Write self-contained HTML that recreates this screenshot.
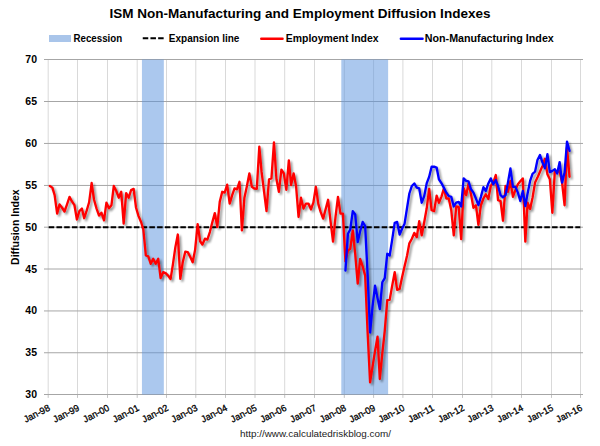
<!DOCTYPE html>
<html><head><meta charset="utf-8"><style>
html,body{margin:0;padding:0;background:#fff;width:600px;height:446px;overflow:hidden}
svg{display:block}
text{font-family:"Liberation Sans", sans-serif}
</style></head><body>
<svg width="600" height="446" viewBox="0 0 600 446">
<defs>
<filter id="sh" x="-10%" y="-10%" width="120%" height="130%">
<feGaussianBlur in="SourceAlpha" stdDeviation="1.3"/>
<feOffset dx="1.6" dy="1.8" result="ob"/>
<feComponentTransfer><feFuncA type="linear" slope="0.42"/></feComponentTransfer>
<feMerge><feMergeNode/><feMergeNode in="SourceGraphic"/></feMerge>
</filter>
</defs>
<rect width="600" height="446" fill="#fff"/>

<line x1="48.2" y1="59.5" x2="48.2" y2="394.5" stroke="#d9d9d9" stroke-width="1"/>
<line x1="48.2" y1="394.5" x2="48.2" y2="397.9" stroke="#c4c4c4" stroke-width="1"/>
<line x1="77.5" y1="59.5" x2="77.5" y2="394.5" stroke="#d9d9d9" stroke-width="1"/>
<line x1="77.5" y1="394.5" x2="77.5" y2="397.9" stroke="#c4c4c4" stroke-width="1"/>
<line x1="107.5" y1="59.5" x2="107.5" y2="394.5" stroke="#d9d9d9" stroke-width="1"/>
<line x1="107.5" y1="394.5" x2="107.5" y2="397.9" stroke="#c4c4c4" stroke-width="1"/>
<line x1="137.2" y1="59.5" x2="137.2" y2="394.5" stroke="#d9d9d9" stroke-width="1"/>
<line x1="137.2" y1="394.5" x2="137.2" y2="397.9" stroke="#c4c4c4" stroke-width="1"/>
<line x1="166.5" y1="59.5" x2="166.5" y2="394.5" stroke="#d9d9d9" stroke-width="1"/>
<line x1="166.5" y1="394.5" x2="166.5" y2="397.9" stroke="#c4c4c4" stroke-width="1"/>
<line x1="195.8" y1="59.5" x2="195.8" y2="394.5" stroke="#d9d9d9" stroke-width="1"/>
<line x1="195.8" y1="394.5" x2="195.8" y2="397.9" stroke="#c4c4c4" stroke-width="1"/>
<line x1="225.5" y1="59.5" x2="225.5" y2="394.5" stroke="#d9d9d9" stroke-width="1"/>
<line x1="225.5" y1="394.5" x2="225.5" y2="397.9" stroke="#c4c4c4" stroke-width="1"/>
<line x1="255.0" y1="59.5" x2="255.0" y2="394.5" stroke="#d9d9d9" stroke-width="1"/>
<line x1="255.0" y1="394.5" x2="255.0" y2="397.9" stroke="#c4c4c4" stroke-width="1"/>
<line x1="284.7" y1="59.5" x2="284.7" y2="394.5" stroke="#d9d9d9" stroke-width="1"/>
<line x1="284.7" y1="394.5" x2="284.7" y2="397.9" stroke="#c4c4c4" stroke-width="1"/>
<line x1="314.5" y1="59.5" x2="314.5" y2="394.5" stroke="#d9d9d9" stroke-width="1"/>
<line x1="314.5" y1="394.5" x2="314.5" y2="397.9" stroke="#c4c4c4" stroke-width="1"/>
<line x1="344.3" y1="59.5" x2="344.3" y2="394.5" stroke="#d9d9d9" stroke-width="1"/>
<line x1="344.3" y1="394.5" x2="344.3" y2="397.9" stroke="#c4c4c4" stroke-width="1"/>
<line x1="373.6" y1="59.5" x2="373.6" y2="394.5" stroke="#d9d9d9" stroke-width="1"/>
<line x1="373.6" y1="394.5" x2="373.6" y2="397.9" stroke="#c4c4c4" stroke-width="1"/>
<line x1="402.9" y1="59.5" x2="402.9" y2="394.5" stroke="#d9d9d9" stroke-width="1"/>
<line x1="402.9" y1="394.5" x2="402.9" y2="397.9" stroke="#c4c4c4" stroke-width="1"/>
<line x1="432.5" y1="59.5" x2="432.5" y2="394.5" stroke="#d9d9d9" stroke-width="1"/>
<line x1="432.5" y1="394.5" x2="432.5" y2="397.9" stroke="#c4c4c4" stroke-width="1"/>
<line x1="462.5" y1="59.5" x2="462.5" y2="394.5" stroke="#d9d9d9" stroke-width="1"/>
<line x1="462.5" y1="394.5" x2="462.5" y2="397.9" stroke="#c4c4c4" stroke-width="1"/>
<line x1="491.8" y1="59.5" x2="491.8" y2="394.5" stroke="#d9d9d9" stroke-width="1"/>
<line x1="491.8" y1="394.5" x2="491.8" y2="397.9" stroke="#c4c4c4" stroke-width="1"/>
<line x1="521.5" y1="59.5" x2="521.5" y2="394.5" stroke="#d9d9d9" stroke-width="1"/>
<line x1="521.5" y1="394.5" x2="521.5" y2="397.9" stroke="#c4c4c4" stroke-width="1"/>
<line x1="551.5" y1="59.5" x2="551.5" y2="394.5" stroke="#d9d9d9" stroke-width="1"/>
<line x1="551.5" y1="394.5" x2="551.5" y2="397.9" stroke="#c4c4c4" stroke-width="1"/>
<line x1="580.5" y1="59.5" x2="580.5" y2="394.5" stroke="#d9d9d9" stroke-width="1"/>
<line x1="580.5" y1="394.5" x2="580.5" y2="397.9" stroke="#c4c4c4" stroke-width="1"/>
<line x1="44" y1="394.500" x2="583" y2="394.500" stroke="#a6a6a6" stroke-width="1"/>
<line x1="44" y1="352.750" x2="583" y2="352.750" stroke="#a6a6a6" stroke-width="1"/>
<line x1="44" y1="310.950" x2="583" y2="310.950" stroke="#a6a6a6" stroke-width="1"/>
<line x1="44" y1="269.000" x2="583" y2="269.000" stroke="#a6a6a6" stroke-width="1"/>
<line x1="44" y1="227.200" x2="583" y2="227.200" stroke="#a6a6a6" stroke-width="1"/>
<line x1="44" y1="185.450" x2="583" y2="185.450" stroke="#a6a6a6" stroke-width="1"/>
<line x1="44" y1="143.450" x2="583" y2="143.450" stroke="#a6a6a6" stroke-width="1"/>
<line x1="44" y1="101.500" x2="583" y2="101.500" stroke="#a6a6a6" stroke-width="1"/>
<line x1="44" y1="59.500" x2="583" y2="59.500" stroke="#a6a6a6" stroke-width="1"/>
<rect x="141.95" y="59.5" width="21.88" height="335" fill="rgb(87,145,221)" fill-opacity="0.5"/>
<rect x="341.30" y="59.5" width="46.82" height="335" fill="rgb(87,145,221)" fill-opacity="0.5"/>
<line x1="48.6" y1="227.2" x2="580.3" y2="227.2" stroke="#000" stroke-width="2.1" stroke-dasharray="5.53 2.214" stroke-dashoffset="-0.1"/>
<g filter="url(#sh)" fill="none" stroke-linejoin="round" stroke-linecap="round">
<path d="M49.86,185.96 L52.37,187.64 L54.64,195.18 L57.14,213.60 L59.57,204.39 L62.08,207.74 L64.51,211.51 L67.02,204.39 L69.53,196.85 L71.95,201.46 L74.46,205.22 L76.89,219.46 L79.40,211.09 L81.91,208.57 L84.17,218.21 L86.68,210.67 L89.11,202.29 L91.62,183.03 L94.05,199.78 L96.56,208.57 L99.07,215.61 L101.49,212.76 L104.00,220.30 L106.43,202.71 L108.94,208.16 L111.45,205.22 L113.79,185.96 L116.30,190.99 L118.73,197.69 L121.24,191.82 L123.67,223.65 L126.18,193.08 L128.69,197.69 L131.11,190.15 L133.62,188.89 L136.05,207.74 L138.56,216.11 L141.07,221.97 L143.33,229.51 L145.84,255.47 L148.27,256.31 L150.78,263.85 L153.21,258.82 L155.72,263.85 L158.23,258.82 L160.65,278.09 L163.16,272.23 L165.59,273.06 L168.10,275.57 L170.61,278.93 L172.87,264.69 L175.38,247.10 L177.81,234.54 L180.32,278.93 L182.75,262.18 L185.26,251.71 L187.76,252.12 L190.19,256.73 L192.70,262.18 L195.13,249.61 L197.64,224.07 L200.15,241.24 L202.41,244.59 L204.92,238.72 L207.35,239.56 L209.86,232.03 L212.29,222.39 L214.80,213.18 L217.30,227.00 L219.73,201.88 L222.24,191.82 L224.67,192.66 L227.18,184.71 L229.69,203.55 L232.03,195.59 L234.54,188.47 L236.97,189.31 L239.48,181.78 L241.91,230.35 L244.42,197.69 L246.92,185.96 L249.35,173.40 L251.86,186.80 L254.29,188.47 L256.80,188.89 L259.31,146.60 L261.57,171.72 L264.08,191.82 L266.51,211.09 L269.02,179.26 L271.45,178.43 L273.96,142.41 L276.46,179.26 L278.89,191.82 L281.40,169.63 L283.83,173.40 L286.34,189.73 L288.85,160.42 L291.11,185.12 L293.62,173.40 L296.05,185.96 L298.56,216.95 L300.99,197.69 L303.49,208.57 L306.00,203.55 L308.43,203.55 L310.94,209.41 L313.37,202.71 L315.88,186.80 L318.39,204.39 L320.65,211.93 L323.16,218.62 L325.59,209.41 L328.10,199.78 L330.53,221.14 L333.03,241.66 L335.54,216.53 L337.97,196.85 L340.48,213.60 L342.91,213.60 L345.42,261.34 L347.93,250.45 L350.27,248.78 L352.78,230.35 L355.21,253.80 L357.72,283.53 L360.15,258.82 L362.65,266.36 L365.16,275.57 L367.59,331.69 L370.10,382.36 L372.53,366.86 L375.04,350.95 L377.55,336.71 L379.81,379.01 L382.32,353.46 L384.75,330.85 L387.26,300.28 L389.69,299.86 L392.19,285.62 L394.70,272.23 L397.13,289.81 L399.64,288.98 L402.07,277.25 L404.58,266.36 L407.09,255.47 L409.35,243.33 L411.86,238.72 L414.29,232.86 L416.80,237.05 L419.22,221.14 L421.73,235.38 L424.24,221.97 L426.67,208.57 L429.18,188.89 L431.61,210.25 L434.12,211.09 L436.62,195.59 L438.89,202.71 L441.40,196.85 L443.83,188.47 L446.34,198.53 L448.76,198.53 L451.27,210.25 L453.78,235.38 L456.21,206.48 L458.72,206.90 L461.15,239.14 L463.66,188.06 L466.16,195.18 L468.51,183.45 L471.02,194.34 L473.45,207.74 L475.96,205.22 L478.38,224.91 L480.89,205.22 L483.40,198.53 L485.83,194.34 L488.34,198.94 L490.77,185.96 L493.28,182.61 L495.78,175.07 L498.05,200.20 L500.56,201.04 L502.99,220.72 L505.50,185.96 L507.92,191.82 L510.43,180.94 L512.94,196.85 L515.37,190.15 L517.88,184.29 L520.31,181.36 L522.82,178.43 L525.32,241.66 L527.59,202.71 L530.10,208.99 L532.53,197.69 L535.04,182.61 L537.46,177.59 L539.97,171.72 L542.48,165.86 L544.91,158.74 L547.42,174.24 L549.85,179.26 L552.35,212.76 L554.86,170.89 L557.13,171.72 L559.64,170.89 L562.07,182.61 L564.57,205.22 L567.00,147.44 L569.51,176.75" stroke="#ff0000" stroke-width="2.35"/>
<path d="M345.42,270.55 L347.93,233.70 L350.27,229.51 L352.78,211.09 L355.21,214.44 L357.72,242.07 L360.15,231.19 L362.65,221.97 L365.16,226.16 L367.59,273.90 L370.10,332.53 L372.53,306.56 L375.04,285.62 L377.55,298.19 L379.81,309.07 L382.32,282.27 L384.75,278.09 L387.26,253.80 L389.69,255.47 L392.19,239.56 L394.70,222.81 L397.13,221.97 L399.64,234.54 L402.07,228.68 L404.58,223.65 L407.09,207.74 L409.35,193.50 L411.86,185.96 L414.29,183.45 L416.80,187.64 L419.22,188.47 L421.73,202.71 L424.24,196.01 L426.67,183.45 L429.18,176.75 L431.61,166.70 L434.12,166.70 L436.62,167.54 L438.89,179.26 L441.40,183.03 L443.83,187.64 L446.34,192.66 L448.76,196.01 L451.27,196.85 L453.78,206.48 L456.21,202.71 L458.72,201.88 L461.15,206.48 L463.66,178.43 L466.16,180.94 L468.51,181.36 L471.02,189.31 L473.45,192.66 L475.96,198.53 L478.38,205.22 L480.89,196.85 L483.40,187.22 L485.83,190.99 L488.34,183.45 L490.77,178.43 L493.28,184.29 L495.78,180.10 L498.05,185.96 L500.56,195.18 L502.99,197.27 L505.50,195.18 L507.92,182.61 L510.43,168.38 L512.94,186.80 L515.37,186.80 L517.88,192.66 L520.31,201.04 L522.82,190.99 L525.32,206.06 L527.59,193.50 L530.10,180.94 L532.53,173.82 L535.04,171.72 L537.46,160.00 L539.97,154.97 L542.48,162.51 L544.91,168.38 L547.42,154.14 L549.85,172.14 L552.35,170.89 L554.86,169.21 L557.13,173.40 L559.64,162.09 L562.07,182.61 L564.57,172.56 L567.00,141.57 L569.51,150.79" stroke="#0000ff" stroke-width="2.35"/>
</g>
<text x="37" y="398.1" text-anchor="end" font-size="10.5" font-weight="bold" fill="#000">30</text>
<text x="37" y="356.2" text-anchor="end" font-size="10.5" font-weight="bold" fill="#000">35</text>
<text x="37" y="314.4" text-anchor="end" font-size="10.5" font-weight="bold" fill="#000">40</text>
<text x="37" y="272.5" text-anchor="end" font-size="10.5" font-weight="bold" fill="#000">45</text>
<text x="37" y="230.6" text-anchor="end" font-size="10.5" font-weight="bold" fill="#000">50</text>
<text x="37" y="188.7" text-anchor="end" font-size="10.5" font-weight="bold" fill="#000">55</text>
<text x="37" y="146.8" text-anchor="end" font-size="10.5" font-weight="bold" fill="#000">60</text>
<text x="37" y="105.0" text-anchor="end" font-size="10.5" font-weight="bold" fill="#000">65</text>
<text x="37" y="63.1" text-anchor="end" font-size="10.5" font-weight="bold" fill="#000">70</text>
<text transform="translate(50.7,410) rotate(-27)" text-anchor="end" font-size="9.4" stroke="#000" stroke-width="0.3" textLength="28" lengthAdjust="spacingAndGlyphs" fill="#000">Jan-98</text>
<text transform="translate(80.0,410) rotate(-27)" text-anchor="end" font-size="9.4" stroke="#000" stroke-width="0.3" textLength="28" lengthAdjust="spacingAndGlyphs" fill="#000">Jan-99</text>
<text transform="translate(110.0,410) rotate(-27)" text-anchor="end" font-size="9.4" stroke="#000" stroke-width="0.3" textLength="28" lengthAdjust="spacingAndGlyphs" fill="#000">Jan-00</text>
<text transform="translate(139.7,410) rotate(-27)" text-anchor="end" font-size="9.4" stroke="#000" stroke-width="0.3" textLength="28" lengthAdjust="spacingAndGlyphs" fill="#000">Jan-01</text>
<text transform="translate(169.0,410) rotate(-27)" text-anchor="end" font-size="9.4" stroke="#000" stroke-width="0.3" textLength="28" lengthAdjust="spacingAndGlyphs" fill="#000">Jan-02</text>
<text transform="translate(198.3,410) rotate(-27)" text-anchor="end" font-size="9.4" stroke="#000" stroke-width="0.3" textLength="28" lengthAdjust="spacingAndGlyphs" fill="#000">Jan-03</text>
<text transform="translate(228.0,410) rotate(-27)" text-anchor="end" font-size="9.4" stroke="#000" stroke-width="0.3" textLength="28" lengthAdjust="spacingAndGlyphs" fill="#000">Jan-04</text>
<text transform="translate(257.5,410) rotate(-27)" text-anchor="end" font-size="9.4" stroke="#000" stroke-width="0.3" textLength="28" lengthAdjust="spacingAndGlyphs" fill="#000">Jan-05</text>
<text transform="translate(287.2,410) rotate(-27)" text-anchor="end" font-size="9.4" stroke="#000" stroke-width="0.3" textLength="28" lengthAdjust="spacingAndGlyphs" fill="#000">Jan-06</text>
<text transform="translate(317.0,410) rotate(-27)" text-anchor="end" font-size="9.4" stroke="#000" stroke-width="0.3" textLength="28" lengthAdjust="spacingAndGlyphs" fill="#000">Jan-07</text>
<text transform="translate(346.8,410) rotate(-27)" text-anchor="end" font-size="9.4" stroke="#000" stroke-width="0.3" textLength="28" lengthAdjust="spacingAndGlyphs" fill="#000">Jan-08</text>
<text transform="translate(376.1,410) rotate(-27)" text-anchor="end" font-size="9.4" stroke="#000" stroke-width="0.3" textLength="28" lengthAdjust="spacingAndGlyphs" fill="#000">Jan-09</text>
<text transform="translate(405.4,410) rotate(-27)" text-anchor="end" font-size="9.4" stroke="#000" stroke-width="0.3" textLength="28" lengthAdjust="spacingAndGlyphs" fill="#000">Jan-10</text>
<text transform="translate(435.0,410) rotate(-27)" text-anchor="end" font-size="9.4" stroke="#000" stroke-width="0.3" textLength="28" lengthAdjust="spacingAndGlyphs" fill="#000">Jan-11</text>
<text transform="translate(465.0,410) rotate(-27)" text-anchor="end" font-size="9.4" stroke="#000" stroke-width="0.3" textLength="28" lengthAdjust="spacingAndGlyphs" fill="#000">Jan-12</text>
<text transform="translate(494.3,410) rotate(-27)" text-anchor="end" font-size="9.4" stroke="#000" stroke-width="0.3" textLength="28" lengthAdjust="spacingAndGlyphs" fill="#000">Jan-13</text>
<text transform="translate(524.0,410) rotate(-27)" text-anchor="end" font-size="9.4" stroke="#000" stroke-width="0.3" textLength="28" lengthAdjust="spacingAndGlyphs" fill="#000">Jan-14</text>
<text transform="translate(554.0,410) rotate(-27)" text-anchor="end" font-size="9.4" stroke="#000" stroke-width="0.3" textLength="28" lengthAdjust="spacingAndGlyphs" fill="#000">Jan-15</text>
<text transform="translate(583.0,410) rotate(-27)" text-anchor="end" font-size="9.4" stroke="#000" stroke-width="0.3" textLength="28" lengthAdjust="spacingAndGlyphs" fill="#000">Jan-16</text>
<text x="300" y="18" text-anchor="middle" font-size="13" font-weight="bold" textLength="381" lengthAdjust="spacingAndGlyphs" fill="#000">ISM Non-Manufacturing and Employment Diffusion Indexes</text>
<rect x="49" y="35" width="22" height="7" fill="#a9c5ea"/>
<text x="73.5" y="41.8" font-size="10.5" font-weight="bold" textLength="48.7" lengthAdjust="spacingAndGlyphs">Recession</text>
<line x1="142.75" y1="38.25" x2="164" y2="38.25" stroke="#000" stroke-width="2" stroke-dasharray="5.5 2.2"/>
<text x="168.8" y="41.8" font-size="10.5" font-weight="bold" textLength="70.6" lengthAdjust="spacingAndGlyphs">Expansion line</text>
<line x1="261.2" y1="38.75" x2="282.6" y2="38.75" stroke="#ff0000" stroke-width="2.35" stroke-linecap="round"/>
<text x="285.8" y="41.8" font-size="10.5" font-weight="bold" textLength="92.8" lengthAdjust="spacingAndGlyphs">Employment Index</text>
<line x1="400.8" y1="38.75" x2="422.6" y2="38.75" stroke="#0000ff" stroke-width="2.35" stroke-linecap="round"/>
<text x="424.8" y="41.8" font-size="10.5" font-weight="bold" textLength="129" lengthAdjust="spacingAndGlyphs">Non-Manufacturing Index</text>
<text transform="translate(19.2,227.2) rotate(-90)" text-anchor="middle" font-size="10.5" font-weight="bold" textLength="75.4" lengthAdjust="spacingAndGlyphs">Diffusion Index</text>
<text x="240" y="436.7" font-size="9.5" fill="#222" textLength="151" lengthAdjust="spacingAndGlyphs">http://www.calculatedriskblog.com/</text>
</svg></body></html>
